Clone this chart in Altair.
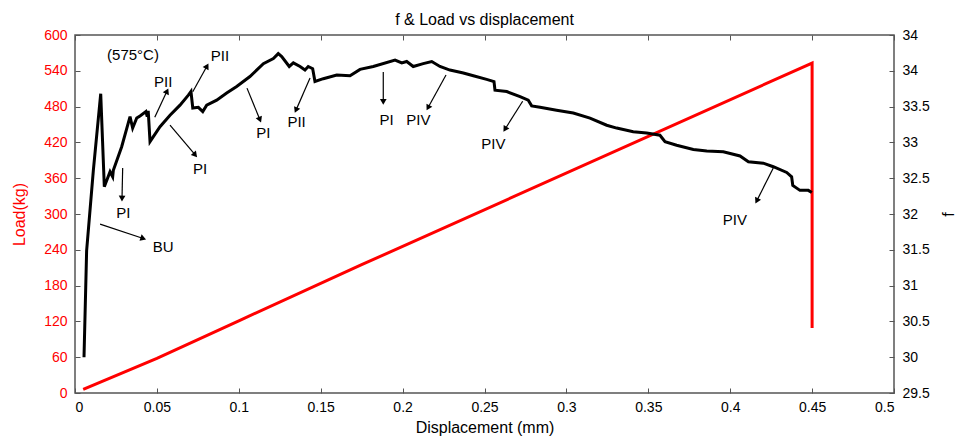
import math
import altair as alt
import pandas as pd

# ---- data ----
disp_f = [0.0055, 0.0071, 0.0112, 0.0157, 0.0179, 0.0214, 0.023, 0.0234, 0.0285, 0.0336,
          0.0352, 0.0377, 0.0397, 0.0433, 0.0441, 0.0447, 0.0458, 0.0519, 0.058, 0.0611,
          0.0641, 0.0692, 0.0708, 0.0719, 0.0753, 0.078, 0.0804, 0.0865, 0.0926, 0.0987,
          0.1068, 0.115, 0.1211, 0.1241, 0.1262, 0.1308, 0.1333, 0.1374, 0.1404, 0.1424,
          0.1451, 0.1465, 0.1516, 0.1598, 0.1679, 0.174, 0.1821, 0.1954, 0.1995, 0.2025,
          0.2065, 0.2126, 0.2178, 0.2228, 0.2289, 0.2371, 0.2432, 0.2513, 0.2558, 0.2564,
          0.2636, 0.2717, 0.2767, 0.2788, 0.2839, 0.294, 0.3042, 0.3144, 0.3246, 0.3307,
          0.3408, 0.349, 0.3571, 0.3602, 0.3673, 0.3775, 0.3857, 0.3958, 0.406, 0.4111,
          0.4202, 0.4263, 0.4345, 0.4375, 0.4382, 0.4426, 0.4477, 0.4498]
f_vals = [30.0, 31.49, 32.61, 33.68, 32.38, 32.59, 32.52, 32.61, 32.94, 33.36,
          33.20, 33.34, 33.37, 33.43, 33.36, 33.44, 33.01, 33.22, 33.38, 33.45,
          33.52, 33.66, 33.71, 33.48, 33.49, 33.43, 33.52, 33.59, 33.69, 33.78,
          33.92, 34.10, 34.17, 34.24, 34.20, 34.06, 34.11, 34.06, 34.01, 34.06,
          34.03, 33.85, 33.89, 33.94, 33.93, 34.02, 34.06, 34.15, 34.11, 34.13,
          34.06, 34.10, 34.13, 34.06, 34.01, 33.97, 33.93, 33.88, 33.85, 33.73,
          33.71, 33.64, 33.59, 33.51, 33.49, 33.45, 33.41, 33.34, 33.24, 33.20,
          33.15, 33.13, 33.10, 33.01, 32.96, 32.90, 32.88, 32.87, 32.81, 32.73,
          32.71, 32.66, 32.58, 32.52, 32.40, 32.33, 32.33, 32.30]

disp_load = [0.005, 0.05, 0.1, 0.175, 0.45, 0.45]
load_vals = [6, 58, 121, 215, 553, 109]

x_ticks = [0, 0.05, 0.1, 0.15, 0.2, 0.25, 0.3, 0.35, 0.4, 0.45, 0.5]
load_ticks = [0, 60, 120, 180, 240, 300, 360, 420, 480, 540, 600]
f_ticks = [29.5, 30, 30.5, 31, 31.5, 32, 32.5, 33, 33.5, 34, 34.5]

ann_text = ["(575°C)", "PI", "BU", "PII", "PI", "PII", "PI", "PII", "PI", "PIV", "PIV", "PIV"]
ann_x = [0.0354, 0.0295, 0.0539, 0.0539, 0.0763, 0.0885, 0.115, 0.1353, 0.1903, 0.2096, 0.2554, 0.4029]
ann_y = [566, 302, 245, 522, 375, 565, 435, 455, 457, 457, 417, 290]

arr_x1 = [0.0291, 0.0153, 0.0487, 0.058, 0.0719, 0.105, 0.1435, 0.1882, 0.2265, 0.2733, 0.4263]
arr_y1 = [377, 283, 462, 449, 505, 511, 528, 538, 533, 489, 377]
arr_x2 = [0.0287, 0.0417, 0.0562, 0.0734, 0.0806, 0.1129, 0.1349, 0.1882, 0.2155, 0.2625, 0.4162]
arr_y2 = [326, 259, 506, 399, 548, 458, 474, 488, 478, 442, 322]

W, H = 819, 358
FONT = "Liberation Sans"

df_f = pd.DataFrame({"d": disp_f, "f": f_vals, "i": range(len(disp_f))})
df_load = pd.DataFrame({"d": disp_load, "load": load_vals, "i": range(len(disp_load))})
df_ann = pd.DataFrame({"t": ann_text, "x": ann_x, "y": ann_y})
angles = []
for a, b, c, d in zip(arr_x1, arr_y1, arr_x2, arr_y2):
    dx = (c - a) * W / 0.5
    dy = -(d - b) * H / 600
    angles.append(math.degrees(math.atan2(dx, -dy)) % 360)
df_arr = pd.DataFrame({"x1": arr_x1, "y1": arr_y1, "x2": arr_x2, "y2": arr_y2, "ang": angles})

xs = alt.Scale(domain=[0, 0.5], nice=False, zero=False)
ys = alt.Scale(domain=[0, 600], nice=False, zero=False)
fs = alt.Scale(domain=[29.5, 34.5], nice=False, zero=False)

axis_common = dict(offset=-5, tickSize=5, domain=False, grid=False, tickColor="#555555",
                   labelFont=FONT, labelFontSize=14, titleFont=FONT, titleFontSize=16,
                   titleFontWeight="normal")

bottom_axis = alt.Axis(orient="bottom", values=x_ticks, format=".2~f", labelPadding=7,
                       title="Displacement (mm)", titlePadding=5, titleColor="black",
                       labelColor="black", **axis_common)
top_axis = alt.Axis(orient="top", values=x_ticks, labels=False, title=None, **axis_common)
left_axis = alt.Axis(orient="left", values=load_ticks, format="d", labelPadding=8,
                     title="Load(kg)", titlePadding=16, titleColor="#ff0000",
                     labelColor="#ff0000", **axis_common)
right_axis = alt.Axis(orient="right", values=f_ticks, format=".1~f", labelPadding=8,
                      labelExpr="datum.value > 34.4 ? '34' : datum.label",
                      title="f", titlePadding=27, titleAngle=270, titleColor="black",
                      labelColor="black", **axis_common)

red = alt.Chart(df_load).mark_line(color="#ff0000", strokeWidth=3).encode(
    x=alt.X("d:Q", scale=xs, axis=bottom_axis),
    y=alt.Y("load:Q", scale=ys, axis=left_axis),
    order="i:Q",
)
black = alt.Chart(df_f).mark_line(color="black", strokeWidth=3).encode(
    x=alt.X("d:Q", scale=xs, axis=top_axis),
    y=alt.Y("f:Q", scale=fs, axis=right_axis),
    order="i:Q",
)
rules = alt.Chart(df_arr).mark_rule(color="black", strokeWidth=1.2).encode(
    x=alt.X("x1:Q", scale=xs, axis=None),
    x2="x2:Q",
    y=alt.Y("y1:Q", scale=ys, axis=None),
    y2="y2:Q",
)
heads = alt.Chart(df_arr).mark_point(shape="triangle-up", filled=True, color="black",
                                     size=45, opacity=1).encode(
    x=alt.X("x2:Q", scale=xs, axis=None),
    y=alt.Y("y2:Q", scale=ys, axis=None),
    angle=alt.Angle("ang:Q", scale=None),
)
texts = alt.Chart(df_ann).mark_text(font=FONT, fontSize=15, color="black").encode(
    x=alt.X("x:Q", scale=xs, axis=None),
    y=alt.Y("y:Q", scale=ys, axis=None),
    text="t:N",
)

chart = alt.layer(red, black, rules, heads, texts).resolve_scale(
    x="independent", y="independent"
).resolve_axis(x="independent", y="independent").properties(
    width=W, height=H,
    title=alt.TitleParams("f & Load vs displacement", font=FONT, fontSize=16,
                          fontWeight="normal", color="black", offset=0, frame="group"),
    autosize=alt.AutoSizeParams(type="none"),
    padding={"left": 67, "top": 27, "right": 62, "bottom": 45},
).configure_view(stroke="#555555", strokeWidth=1.5)

chart.save("out.html", embed_options={"renderer": "svg", "actions": False})
